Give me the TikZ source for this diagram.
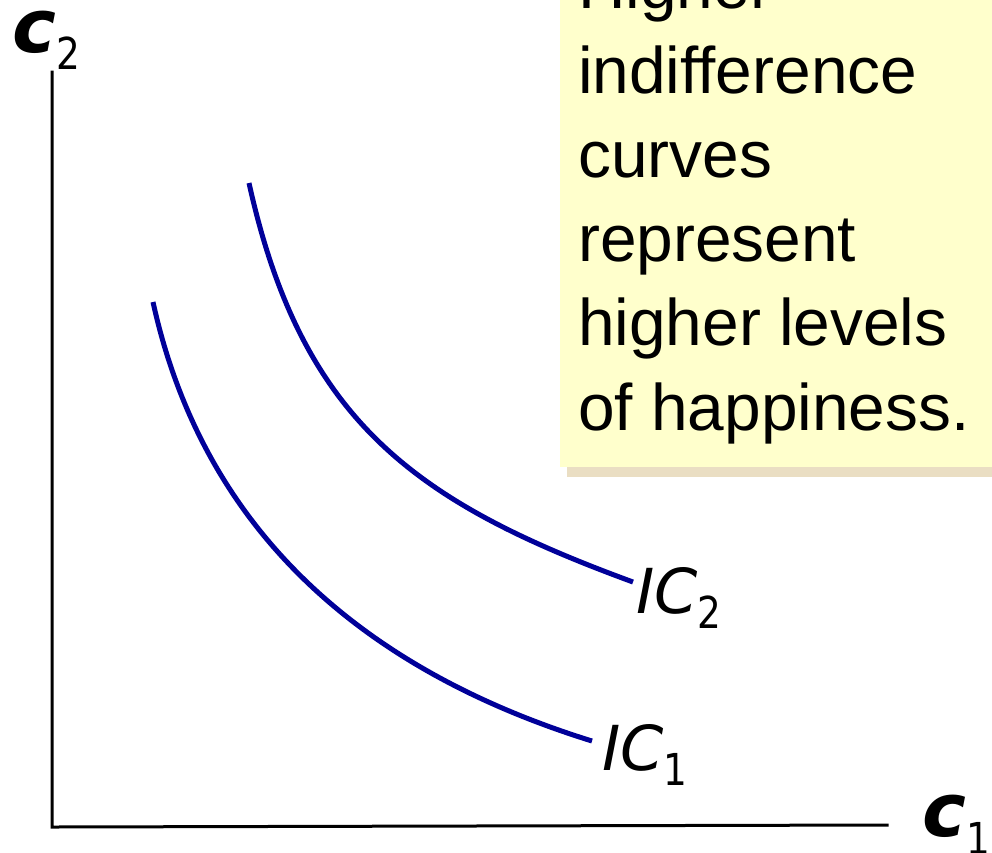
\documentclass[tikz,border=0pt]{standalone}
\usepackage{fontspec}
\setmainfont{Liberation Sans}
\newfontfamily\lblfont{DejaVu Sans}
\newfontfamily\subfont[FakeStretch=0.85]{DejaVu Sans}
\definecolor{icblue}{RGB}{0,0,153}
\definecolor{boxfill}{RGB}{255,255,204}
\definecolor{boxshadow}{RGB}{234,222,195}
\tikzset{
  axisline/.style={line width=3pt, black, line cap=rect},
  iccurve/.style={line width=5pt, icblue},
  boxtext/.style={anchor=base west, inner sep=0pt, font=\fontsize{65.8}{78}\selectfont},
  axlabel/.style={anchor=base west, inner sep=0pt, font=\lblfont\bfseries\itshape\fontsize{74}{80}\selectfont},
  iclabel/.style={anchor=base west, inner sep=0pt, font=\lblfont\itshape\fontsize{62}{70}\selectfont},
}
\newcommand{\mysub}[2]{\raisebox{-#1pt}{\subfont\mdseries\upshape\fontsize{44}{46}\selectfont #2}}
\begin{document}
\begin{tikzpicture}[x=1pt,y=-1pt]
\useasboundingbox (0,0) rectangle (992,852);
\clip (0,0) rectangle (992,852);
% text box with shadow
\fill[boxshadow] (567,-10) rectangle (1000,477);
\fill[boxfill] (560,-10) rectangle (1000,467);
\node[boxtext] (t1) at (578,8.75) {Higher};
\node[boxtext] (t2) at (578,93) {indifference};
\node[boxtext] (t3) at (578,177.25) {curves};
\node[boxtext] (t4) at (578,261.5) {represent};
\node[boxtext] (t5) at (578,345.75) {higher levels};
\node[boxtext] (t6) at (578,430) {of happiness.};
% axes
\coordinate (O) at (52,827);
\coordinate (ytop) at (52,72);
\coordinate (xend) at (887,825);
\draw[axisline] (ytop) -- (O) -- (xend);
% axis labels
\node[axlabel] (c2) at (12,52) {c\mysub{17}{2}};
\node[axlabel] (c1) at (922,836) {c\mysub{18}{1}};
% indifference curves
\coordinate (ic1s) at (153,302);
\coordinate (ic1e) at (592,741);
\coordinate (ic2s) at (249,183);
\coordinate (ic2e) at (633,582);
\draw[iccurve] (ic1s) .. controls (205,539) and (373,673) .. (ic1e);
\draw[iccurve] (ic2s) .. controls (302,423) and (417.5,503) .. (ic2e);
\node[iclabel] (ic2) at (636,613) {IC\mysub{15}{2}};
\node[iclabel] (ic1) at (602,770) {IC\mysub{15}{1}};
\end{tikzpicture}
\end{document}
